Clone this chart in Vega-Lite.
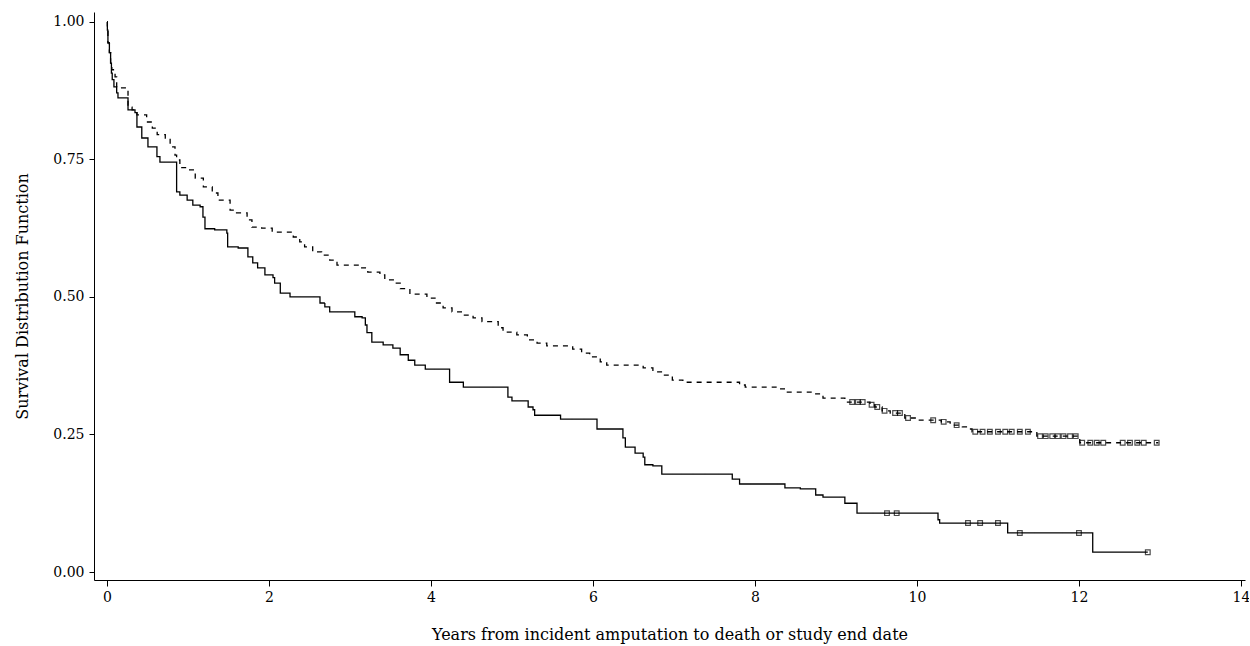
{
  "$schema": "https://vega.github.io/schema/vega-lite/v6.json",
  "autosize": {"type": "none"},
  "padding": {"left": 94, "top": 12, "right": 4, "bottom": 66},
  "width": 1151,
  "height": 568,
  "background": "white",
  "config": {
    "view": {"stroke": null},
    "font": "DejaVu Serif",
    "axis": {"grid": false, "domainColor": "black", "tickColor": "black", "labelColor": "black", "titleColor": "black", "labelFont": "DejaVu Serif", "titleFont": "DejaVu Serif", "titleFontWeight": "normal", "labelFontSize": 14, "titleFontSize": 16, "domainWidth": 1, "tickWidth": 1}
  },
  "datasets": {
    "curves": [
      {"group": "A", "t": 0, "s": 1.0}, {"group": "A", "t": 0.005, "s": 0.985}, {"group": "A", "t": 0.012, "s": 0.962}, {"group": "A", "t": 0.03, "s": 0.944}, {"group": "A", "t": 0.045, "s": 0.925}, {"group": "A", "t": 0.055, "s": 0.907}, {"group": "A", "t": 0.065, "s": 0.895}, {"group": "A", "t": 0.086, "s": 0.882}, {"group": "A", "t": 0.12, "s": 0.871}, {"group": "A", "t": 0.136, "s": 0.862}, {"group": "A", "t": 0.26, "s": 0.84}, {"group": "A", "t": 0.346, "s": 0.835}, {"group": "A", "t": 0.37, "s": 0.809}, {"group": "A", "t": 0.43, "s": 0.789}, {"group": "A", "t": 0.506, "s": 0.773}, {"group": "A", "t": 0.617, "s": 0.755}, {"group": "A", "t": 0.654, "s": 0.745}, {"group": "A", "t": 0.86, "s": 0.691}, {"group": "A", "t": 0.9, "s": 0.685}, {"group": "A", "t": 0.99, "s": 0.676}, {"group": "A", "t": 1.06, "s": 0.667}, {"group": "A", "t": 1.15, "s": 0.664}, {"group": "A", "t": 1.185, "s": 0.645}, {"group": "A", "t": 1.21, "s": 0.624}, {"group": "A", "t": 1.33, "s": 0.622}, {"group": "A", "t": 1.48, "s": 0.616}, {"group": "A", "t": 1.49, "s": 0.591}, {"group": "A", "t": 1.62, "s": 0.589}, {"group": "A", "t": 1.74, "s": 0.573}, {"group": "A", "t": 1.8, "s": 0.562}, {"group": "A", "t": 1.86, "s": 0.553}, {"group": "A", "t": 1.95, "s": 0.54}, {"group": "A", "t": 2.05, "s": 0.535}, {"group": "A", "t": 2.07, "s": 0.525}, {"group": "A", "t": 2.14, "s": 0.507}, {"group": "A", "t": 2.26, "s": 0.5}, {"group": "A", "t": 2.63, "s": 0.489}, {"group": "A", "t": 2.69, "s": 0.482}, {"group": "A", "t": 2.75, "s": 0.473}, {"group": "A", "t": 3.06, "s": 0.464}, {"group": "A", "t": 3.15, "s": 0.462}, {"group": "A", "t": 3.19, "s": 0.449}, {"group": "A", "t": 3.21, "s": 0.435}, {"group": "A", "t": 3.27, "s": 0.418}, {"group": "A", "t": 3.41, "s": 0.413}, {"group": "A", "t": 3.53, "s": 0.407}, {"group": "A", "t": 3.62, "s": 0.395}, {"group": "A", "t": 3.72, "s": 0.385}, {"group": "A", "t": 3.8, "s": 0.376}, {"group": "A", "t": 3.93, "s": 0.369}, {"group": "A", "t": 4.23, "s": 0.345}, {"group": "A", "t": 4.4, "s": 0.336}, {"group": "A", "t": 4.95, "s": 0.318}, {"group": "A", "t": 5.0, "s": 0.311}, {"group": "A", "t": 5.2, "s": 0.3}, {"group": "A", "t": 5.26, "s": 0.295}, {"group": "A", "t": 5.28, "s": 0.285}, {"group": "A", "t": 5.6, "s": 0.278}, {"group": "A", "t": 6.05, "s": 0.26}, {"group": "A", "t": 6.37, "s": 0.244}, {"group": "A", "t": 6.4, "s": 0.227}, {"group": "A", "t": 6.52, "s": 0.216}, {"group": "A", "t": 6.62, "s": 0.209}, {"group": "A", "t": 6.64, "s": 0.195}, {"group": "A", "t": 6.74, "s": 0.193}, {"group": "A", "t": 6.85, "s": 0.178}, {"group": "A", "t": 7.72, "s": 0.169}, {"group": "A", "t": 7.81, "s": 0.16}, {"group": "A", "t": 8.37, "s": 0.153}, {"group": "A", "t": 8.56, "s": 0.151}, {"group": "A", "t": 8.75, "s": 0.14}, {"group": "A", "t": 8.84, "s": 0.136}, {"group": "A", "t": 9.11, "s": 0.125}, {"group": "A", "t": 9.26, "s": 0.107}, {"group": "A", "t": 10.26, "s": 0.095}, {"group": "A", "t": 10.28, "s": 0.089}, {"group": "A", "t": 11.12, "s": 0.071}, {"group": "A", "t": 12.17, "s": 0.036}, {"group": "A", "t": 12.85, "s": 0.036},
      {"group": "B", "t": 0, "s": 1.0}, {"group": "B", "t": 0.005, "s": 0.985}, {"group": "B", "t": 0.012, "s": 0.962}, {"group": "B", "t": 0.03, "s": 0.944}, {"group": "B", "t": 0.045, "s": 0.925}, {"group": "B", "t": 0.06, "s": 0.913}, {"group": "B", "t": 0.1, "s": 0.9}, {"group": "B", "t": 0.12, "s": 0.88}, {"group": "B", "t": 0.26, "s": 0.845}, {"group": "B", "t": 0.31, "s": 0.84}, {"group": "B", "t": 0.37, "s": 0.831}, {"group": "B", "t": 0.49, "s": 0.818}, {"group": "B", "t": 0.56, "s": 0.807}, {"group": "B", "t": 0.62, "s": 0.795}, {"group": "B", "t": 0.72, "s": 0.789}, {"group": "B", "t": 0.78, "s": 0.773}, {"group": "B", "t": 0.84, "s": 0.758}, {"group": "B", "t": 0.86, "s": 0.749}, {"group": "B", "t": 0.9, "s": 0.735}, {"group": "B", "t": 1.0, "s": 0.731}, {"group": "B", "t": 1.09, "s": 0.716}, {"group": "B", "t": 1.19, "s": 0.7}, {"group": "B", "t": 1.3, "s": 0.689}, {"group": "B", "t": 1.37, "s": 0.676}, {"group": "B", "t": 1.52, "s": 0.658}, {"group": "B", "t": 1.6, "s": 0.653}, {"group": "B", "t": 1.73, "s": 0.64}, {"group": "B", "t": 1.79, "s": 0.627}, {"group": "B", "t": 1.91, "s": 0.625}, {"group": "B", "t": 2.04, "s": 0.618}, {"group": "B", "t": 2.3, "s": 0.609}, {"group": "B", "t": 2.38, "s": 0.6}, {"group": "B", "t": 2.44, "s": 0.591}, {"group": "B", "t": 2.54, "s": 0.582}, {"group": "B", "t": 2.65, "s": 0.576}, {"group": "B", "t": 2.75, "s": 0.567}, {"group": "B", "t": 2.84, "s": 0.558}, {"group": "B", "t": 3.12, "s": 0.553}, {"group": "B", "t": 3.22, "s": 0.545}, {"group": "B", "t": 3.37, "s": 0.54}, {"group": "B", "t": 3.43, "s": 0.531}, {"group": "B", "t": 3.56, "s": 0.525}, {"group": "B", "t": 3.62, "s": 0.515}, {"group": "B", "t": 3.74, "s": 0.505}, {"group": "B", "t": 3.95, "s": 0.498}, {"group": "B", "t": 4.05, "s": 0.489}, {"group": "B", "t": 4.15, "s": 0.48}, {"group": "B", "t": 4.26, "s": 0.473}, {"group": "B", "t": 4.4, "s": 0.467}, {"group": "B", "t": 4.52, "s": 0.462}, {"group": "B", "t": 4.63, "s": 0.455}, {"group": "B", "t": 4.83, "s": 0.444}, {"group": "B", "t": 4.89, "s": 0.436}, {"group": "B", "t": 5.06, "s": 0.431}, {"group": "B", "t": 5.19, "s": 0.422}, {"group": "B", "t": 5.31, "s": 0.416}, {"group": "B", "t": 5.43, "s": 0.411}, {"group": "B", "t": 5.75, "s": 0.405}, {"group": "B", "t": 5.86, "s": 0.398}, {"group": "B", "t": 5.96, "s": 0.391}, {"group": "B", "t": 6.09, "s": 0.382}, {"group": "B", "t": 6.17, "s": 0.376}, {"group": "B", "t": 6.62, "s": 0.371}, {"group": "B", "t": 6.74, "s": 0.364}, {"group": "B", "t": 6.86, "s": 0.358}, {"group": "B", "t": 6.98, "s": 0.349}, {"group": "B", "t": 7.11, "s": 0.345}, {"group": "B", "t": 7.81, "s": 0.34}, {"group": "B", "t": 7.88, "s": 0.336}, {"group": "B", "t": 8.27, "s": 0.333}, {"group": "B", "t": 8.4, "s": 0.327}, {"group": "B", "t": 8.72, "s": 0.324}, {"group": "B", "t": 8.84, "s": 0.316}, {"group": "B", "t": 9.11, "s": 0.309}, {"group": "B", "t": 9.42, "s": 0.304}, {"group": "B", "t": 9.48, "s": 0.3}, {"group": "B", "t": 9.57, "s": 0.293}, {"group": "B", "t": 9.67, "s": 0.289}, {"group": "B", "t": 9.85, "s": 0.28}, {"group": "B", "t": 10.0, "s": 0.276}, {"group": "B", "t": 10.3, "s": 0.273}, {"group": "B", "t": 10.41, "s": 0.267}, {"group": "B", "t": 10.56, "s": 0.264}, {"group": "B", "t": 10.62, "s": 0.26}, {"group": "B", "t": 10.68, "s": 0.255}, {"group": "B", "t": 11.48, "s": 0.247}, {"group": "B", "t": 12.01, "s": 0.235}, {"group": "B", "t": 12.98, "s": 0.235}
    ],
    "censored": [
      {"group": "A", "t": 9.63, "s": 0.107}, {"group": "A", "t": 9.75, "s": 0.107}, {"group": "A", "t": 10.63, "s": 0.089}, {"group": "A", "t": 10.78, "s": 0.089}, {"group": "A", "t": 11.0, "s": 0.089}, {"group": "A", "t": 11.27, "s": 0.071}, {"group": "A", "t": 12.0, "s": 0.071}, {"group": "A", "t": 12.85, "s": 0.036},
      {"group": "B", "t": 9.2, "s": 0.309}, {"group": "B", "t": 9.27, "s": 0.309}, {"group": "B", "t": 9.33, "s": 0.309}, {"group": "B", "t": 9.44, "s": 0.304}, {"group": "B", "t": 9.51, "s": 0.3}, {"group": "B", "t": 9.6, "s": 0.293}, {"group": "B", "t": 9.73, "s": 0.289}, {"group": "B", "t": 9.79, "s": 0.289}, {"group": "B", "t": 9.89, "s": 0.28}, {"group": "B", "t": 10.2, "s": 0.276}, {"group": "B", "t": 10.33, "s": 0.273}, {"group": "B", "t": 10.49, "s": 0.267}, {"group": "B", "t": 10.72, "s": 0.255}, {"group": "B", "t": 10.81, "s": 0.255}, {"group": "B", "t": 10.9, "s": 0.255}, {"group": "B", "t": 11.0, "s": 0.255}, {"group": "B", "t": 11.09, "s": 0.255}, {"group": "B", "t": 11.17, "s": 0.255}, {"group": "B", "t": 11.27, "s": 0.255}, {"group": "B", "t": 11.37, "s": 0.255}, {"group": "B", "t": 11.52, "s": 0.247}, {"group": "B", "t": 11.59, "s": 0.247}, {"group": "B", "t": 11.67, "s": 0.247}, {"group": "B", "t": 11.74, "s": 0.247}, {"group": "B", "t": 11.81, "s": 0.247}, {"group": "B", "t": 11.89, "s": 0.247}, {"group": "B", "t": 11.96, "s": 0.247}, {"group": "B", "t": 12.04, "s": 0.235}, {"group": "B", "t": 12.14, "s": 0.235}, {"group": "B", "t": 12.22, "s": 0.235}, {"group": "B", "t": 12.3, "s": 0.235}, {"group": "B", "t": 12.54, "s": 0.235}, {"group": "B", "t": 12.63, "s": 0.235}, {"group": "B", "t": 12.72, "s": 0.235}, {"group": "B", "t": 12.8, "s": 0.235}, {"group": "B", "t": 12.96, "s": 0.235}
    ]
  },
  "layer": [
    {
      "data": {"name": "curves"},
      "mark": {"type": "line", "interpolate": "step-after", "color": "black", "strokeWidth": 1.3},
      "encoding": {
        "x": {"field": "t", "type": "quantitative", "scale": {"domain": [-0.16, 14.05], "nice": false, "zero": false},
              "axis": {"values": [0, 2, 4, 6, 8, 10, 12, 14], "format": "d", "title": "Years from incident amputation to death or study end date", "tickSize": 6, "labelPadding": 4, "titlePadding": 22, "labelFlush": false}},
        "y": {"field": "s", "type": "quantitative", "scale": {"domain": [-0.0145, 1.018], "nice": false, "zero": false},
              "axis": {"values": [0, 0.25, 0.5, 0.75, 1], "format": ".2f", "title": "Survival Distribution Function", "tickSize": 5, "labelPadding": 5, "titlePadding": 22, "labelFlush": false}},
        "detail": {"field": "group"},
        "strokeDash": {"field": "group", "type": "nominal", "scale": {"domain": ["A", "B"], "range": [[1, 0], [5, 5]]}, "legend": null}
      }
    },
    {
      "data": {"name": "censored"},
      "mark": {"type": "point", "shape": "square", "filled": false, "color": "black", "size": 22, "strokeWidth": 1.2},
      "encoding": {
        "x": {"field": "t", "type": "quantitative"},
        "y": {"field": "s", "type": "quantitative"}
      }
    }
  ]
}
